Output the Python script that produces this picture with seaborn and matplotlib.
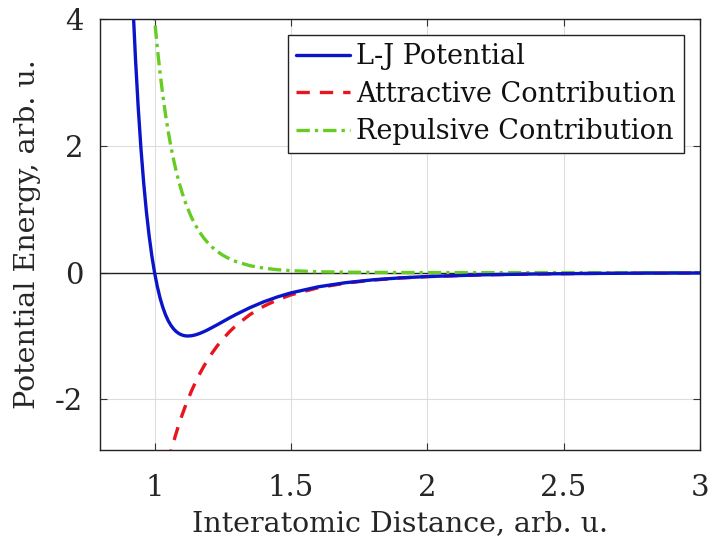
import numpy as np
import matplotlib
matplotlib.use("Agg")
import matplotlib.pyplot as plt
import pandas as pd
import seaborn as sns

# interatomic distance (arb. u.) and curve values
distance = [0.90, 0.91, 0.92, 0.93, 0.94, 0.95, 0.96, 0.97, 0.98, 0.99,
            1.00, 1.01, 1.02, 1.03, 1.04, 1.05, 1.06, 1.07, 1.08, 1.09,
            1.10, 1.11, 1.12, 1.135, 1.15, 1.165, 1.18, 1.195, 1.21, 1.23,
            1.25, 1.275, 1.30, 1.35, 1.40, 1.45, 1.50, 1.60, 1.70, 1.80,
            1.90, 2.00, 2.20, 2.40, 2.60, 2.80, 3.00]
ljPotential = [6.64, 5.360, 4.283, 3.373, 2.606, 1.961, 1.418, 0.963, 0.582, 0.264,
               0.0, -0.218, -0.398, -0.544, -0.663, -0.758, -0.832, -0.889, -0.932, -0.963,
               -0.983, -0.995, -1.000, -0.996, -0.982, -0.960, -0.933, -0.902, -0.868, -0.822,
               -0.774, -0.714, -0.657, -0.552, -0.461, -0.384, -0.320, -0.224, -0.159, -0.114,
               -0.083, -0.062, -0.035, -0.021, -0.013, -0.008, -0.0055]
attractive = [-7.53, -7.044, -6.597, -6.182, -5.798, -5.441, -5.110, -4.802, -4.516, -4.249,
              -4.0, -3.768, -3.552, -3.350, -3.161, -2.985, -2.820, -2.665, -2.521, -2.385,
              -2.258, -2.139, -2.027, -1.871, -1.729, -1.600, -1.482, -1.374, -1.275, -1.155,
              -1.049, -0.931, -0.829, -0.661, -0.531, -0.430, -0.351, -0.238, -0.166, -0.118,
              -0.085, -0.0625, -0.035, -0.021, -0.013, -0.008, -0.0055]
repulsive = [14.16, 12.40, 10.88, 9.556, 8.404, 7.402, 6.528, 5.765, 5.098, 4.513,
             4.0, 3.550, 3.154, 2.806, 2.498, 2.227, 1.988, 1.776, 1.588, 1.422,
             1.275, 1.143, 1.027, 0.875, 0.748, 0.640, 0.549, 0.472, 0.406, 0.334,
             0.275, 0.217, 0.172, 0.109, 0.071, 0.046, 0.031, 0.014, 0.0069, 0.0035,
             0.0018, 0.001, 0.0003, 0.0001, 0.0, 0.0, 0.0]

data = pd.DataFrame({"r": distance, "lj": ljPotential, "att": attractive, "rep": repulsive})

sns.set_style("ticks")
plt.rcParams["font.family"] = ["DejaVu Serif"]
plt.rcParams["axes.unicode_minus"] = False
plt.rcParams["xtick.direction"] = "in"
plt.rcParams["ytick.direction"] = "in"

fig = plt.figure(figsize=(7.12, 5.53), dpi=100)
ax = fig.add_axes([0.1405, 0.186, 0.8425, 0.7796])

ax.axhline(0, color="#222222", linewidth=1.0, zorder=1)
sns.lineplot(data=data, x="r", y="lj", ax=ax, color="#0a14c8", linewidth=2.4, label="L-J Potential", zorder=3)
sns.lineplot(data=data, x="r", y="att", ax=ax, color="#e8141e", linewidth=2.4, linestyle=(0, (4, 3)),
             label="Attractive Contribution", zorder=2)
sns.lineplot(data=data, x="r", y="rep", ax=ax, color="#66cc22", linewidth=2.4, linestyle=(0, (4, 1.5, 1, 1.5)),
             label="Repulsive Contribution", zorder=2)

ax.set_xlim(0.8, 3)
ax.set_ylim(-2.8, 4)
ax.set_xticks([1, 1.5, 2, 2.5, 3])
ax.set_xticklabels(["1", "1.5", "2", "2.5", "3"])
ax.set_yticks([-2, 0, 2, 4])
ax.tick_params(labelsize=21, length=5, width=0.8, color="#333333", labelcolor="#262626",
               pad=12, top=True, right=True)
ax.tick_params(axis="x", pad=17)
ax.grid(True, color="#dddddd", linewidth=0.8)
for s in ax.spines.values():
    s.set_visible(True)
    s.set_color("#222222")
    s.set_linewidth(1.0)

ax.set_xlabel("Interatomic Distance, arb. u.", fontsize=20.5, color="#262626", labelpad=6)
ax.set_ylabel("Potential Energy, arb. u.", fontsize=20.5, color="#262626", labelpad=10)

leg = ax.legend(loc="upper right", fontsize=19.5, frameon=True, fancybox=False, handlelength=2.0,
                handletextpad=0.2, borderpad=0.3, labelspacing=0.38, borderaxespad=0.6)
leg.get_frame().set_edgecolor("#222222")
leg.get_frame().set_linewidth(1.0)
leg.get_frame().set_alpha(1)
for t in leg.get_texts():
    t.set_color("#111111")

fig.savefig("out.png", dpi=100)
